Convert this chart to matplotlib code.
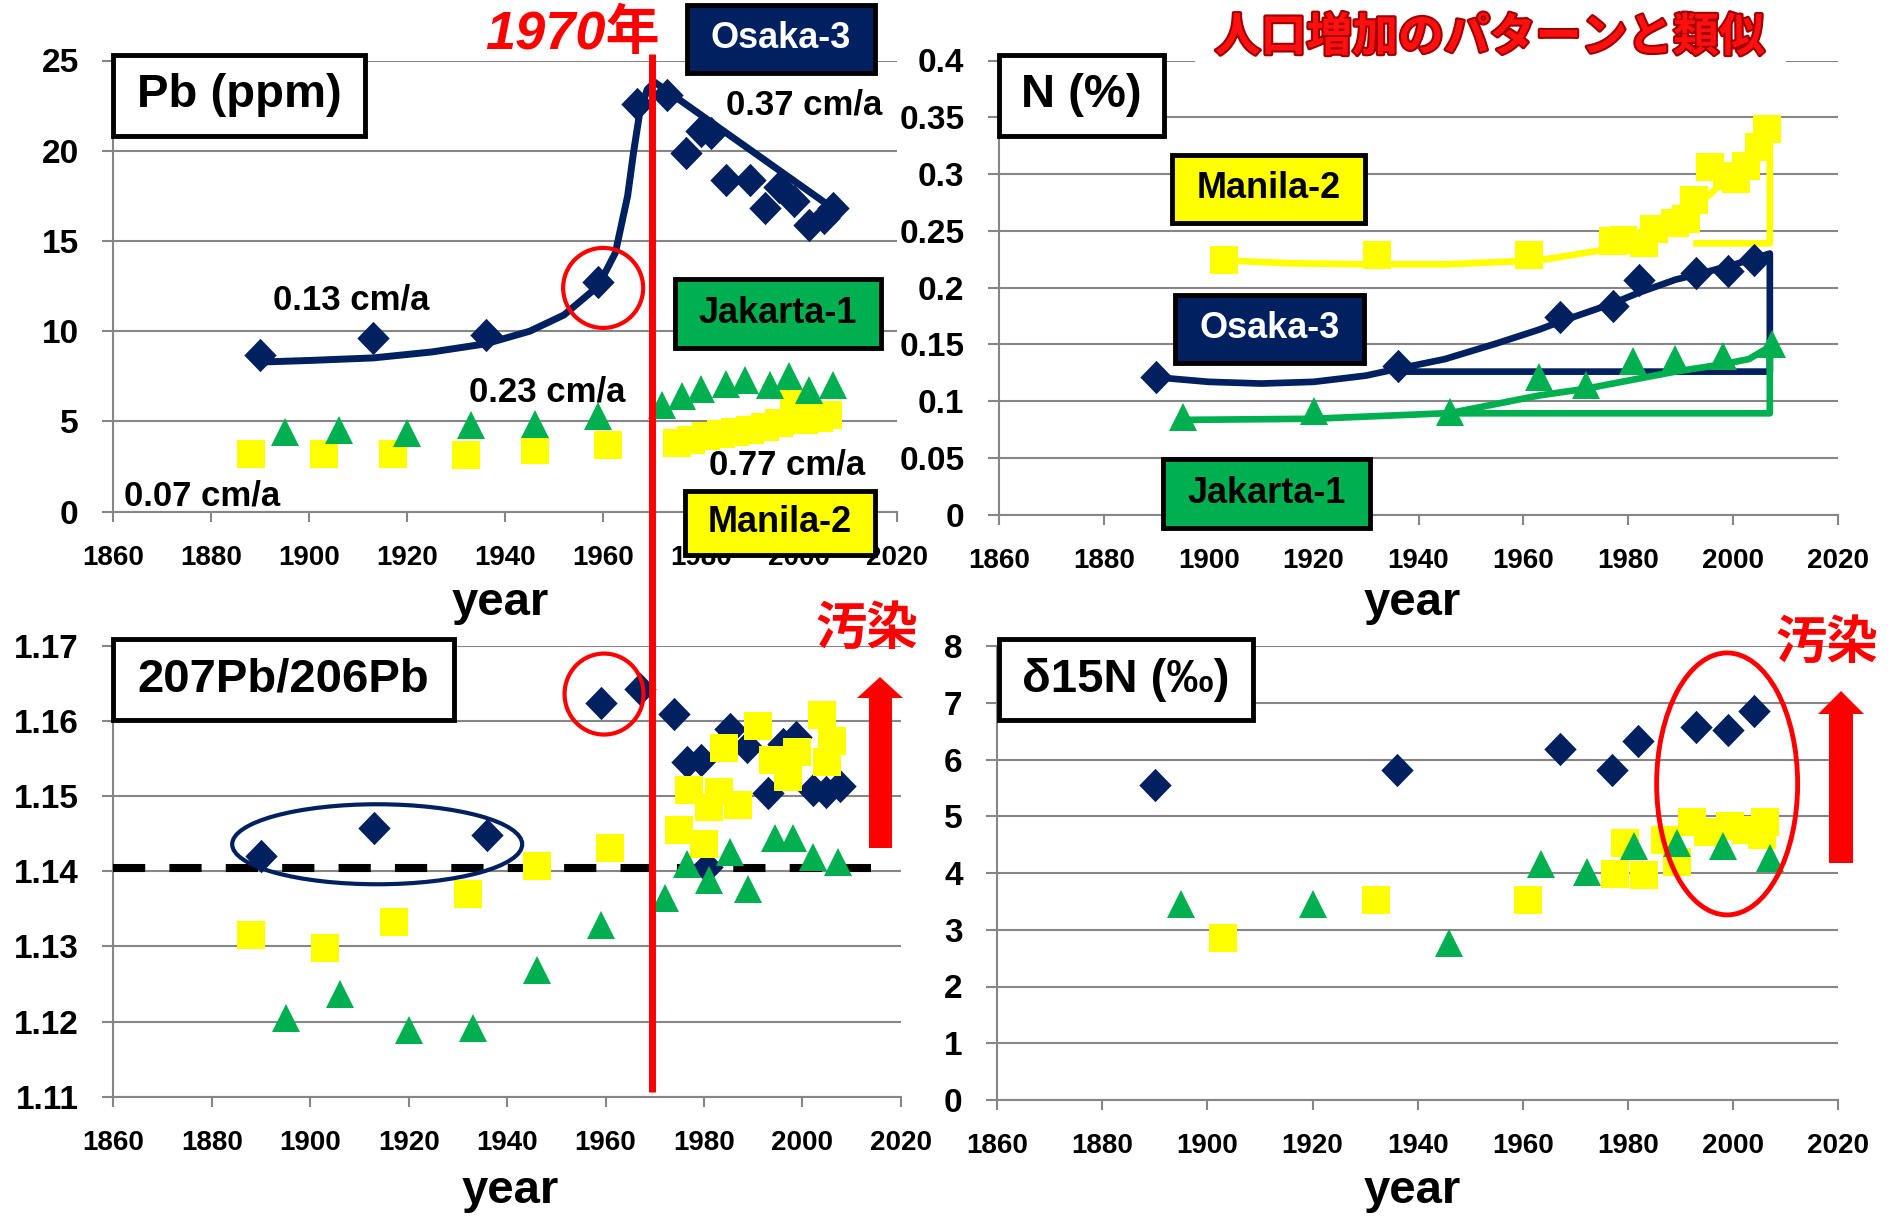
import matplotlib
matplotlib.use('Agg')
import matplotlib.pyplot as plt
from matplotlib.patches import Rectangle, Ellipse, Polygon
from matplotlib.path import Path
import matplotlib.patheffects as pe

# ---------------- data ----------------
# Pb (ppm)
pb_osaka_year = [1890, 1913, 1936, 1959, 1967, 1973, 1977, 1980, 1982, 1985, 1990, 1993, 1996, 1999, 2002, 2005, 2007]
pb_osaka = [8.7, 9.6, 9.8, 12.7, 22.6, 23.1, 19.9, 21.1, 21.0, 18.4, 18.4, 16.8, 18.0, 17.2, 15.9, 16.3, 16.8]
pb_jak_year = [1895, 1906, 1920, 1933, 1946, 1959, 1972, 1976, 1980, 1985, 1989, 1994, 1998, 2002, 2007]
pb_jak = [4.4, 4.5, 4.35, 4.8, 4.85, 5.3, 5.9, 6.4, 6.8, 7.1, 7.3, 7.0, 7.5, 6.75, 7.0]
pb_manila_year = [1888, 1903, 1917, 1932, 1946, 1961, 1975, 1978, 1981, 1984, 1987, 1990, 1993, 1996, 1999, 2001, 2004, 2006]
pb_manila = [3.2, 3.2, 3.2, 3.15, 3.4, 3.7, 3.8, 3.97, 4.19, 4.3, 4.41, 4.52, 4.69, 4.9, 5.95, 5.08, 5.19, 5.35]
pb_trend_year = [1891, 1900, 1913, 1925, 1936, 1945, 1952, 1959, 1962.5, 1965, 1966.2, 1967.4, 1969, 1970.5, 2008]
pb_trend = [8.3, 8.38, 8.52, 8.85, 9.3, 10.0, 10.9, 12.5, 14.35, 17.5, 19.9, 22.0, 23.4, 23.8, 16.6]

# N (%)
n_osaka_year = [1890, 1936, 1967, 1977, 1982, 1993, 1999, 2004]
n_osaka = [0.121, 0.131, 0.174, 0.184, 0.207, 0.213, 0.215, 0.224]
n_manila_year = [1903, 1932, 1961, 1977, 1979, 1983, 1985, 1989, 1991, 1992.5, 1995.5, 1998.8, 2000.5, 2002.5, 2005, 2006.5]
n_manila = [0.224, 0.229, 0.229, 0.241, 0.242, 0.239, 0.252, 0.257, 0.26, 0.277, 0.306, 0.298, 0.296, 0.307, 0.324, 0.340]
n_jak_year = [1895, 1920, 1946, 1963, 1972, 1981, 1989, 1998, 2007.5]
n_jak = [0.086, 0.091, 0.0905, 0.121, 0.114, 0.135, 0.137, 0.140, 0.150]
n_osaka_trend_year = [1890, 1900, 1910, 1920, 1930, 1936, 1945, 1955, 1963, 1967, 1977, 1982, 1989, 1993, 2000, 2007, 2007, 1938]
n_osaka_trend = [0.121, 0.117, 0.1155, 0.117, 0.1225, 0.1285, 0.137, 0.151, 0.163, 0.170, 0.186, 0.1955, 0.207, 0.2115, 0.220, 0.230, 0.126, 0.126]
n_manila_trend_year = [1903, 1915, 1930, 1945, 1963, 1975, 1983, 1990, 1995, 2000, 2004, 2007, 2007, 1993]
n_manila_trend = [0.224, 0.2215, 0.2205, 0.2205, 0.224, 0.233, 0.245, 0.262, 0.28, 0.30, 0.318, 0.338, 0.239, 0.239]
n_jak_trend_year = [1895, 1920, 1946, 1963, 1972, 1981, 1989, 1998, 2003, 2007, 2007, 1946]
n_jak_trend = [0.0835, 0.0845, 0.0895, 0.105, 0.111, 0.119, 0.126, 0.1325, 0.137, 0.148, 0.0893, 0.0893]

# 207Pb/206Pb
r_osaka_year = [1890, 1913, 1936, 1959, 1967, 1974, 1976.5, 1979.5, 1980.6, 1985.3, 1988.7, 1993.1, 1996.1, 1998.8, 2002.2, 2004.9, 2007.6]
r_osaka = [1.1421, 1.1458, 1.1448, 1.1624, 1.1643, 1.1610, 1.1546, 1.1548, 1.1406, 1.1590, 1.1566, 1.1504, 1.1570, 1.1579, 1.1508, 1.1506, 1.1513]
r_manila_year = [1888, 1903, 1917, 1932, 1946, 1961, 1975, 1977, 1980, 1981, 1983, 1984, 1987, 1991, 1994, 1997, 1999, 2004, 2005, 2006]
r_manila = [1.1315, 1.1298, 1.1332, 1.1370, 1.1407, 1.1431, 1.1455, 1.1508, 1.1437, 1.1486, 1.1506, 1.1564, 1.1488, 1.1593, 1.1548, 1.1526, 1.1559, 1.1608, 1.1546, 1.1573]
r_jak_year = [1895, 1906, 1920, 1933, 1946, 1959, 1972, 1976.5, 1981, 1985.3, 1989, 1994.4, 1998.1, 2002.2, 2007.3]
r_jak = [1.1205, 1.1236, 1.1189, 1.1192, 1.1268, 1.1328, 1.1365, 1.1410, 1.1389, 1.1426, 1.1376, 1.1444, 1.1444, 1.1419, 1.1413]
r_ref_year = [1860, 2014]
r_ref = [1.1404, 1.1404]

# d15N
d_osaka_year = [1890, 1936, 1967, 1977, 1982, 1993, 1999, 2004]
d_osaka = [5.55, 5.82, 6.19, 5.81, 6.33, 6.58, 6.52, 6.85]
d_manila_year = [1903, 1932, 1961, 1977.5, 1979.5, 1983, 1987, 1989.3, 1992.2, 1995.3, 1999.4, 2002.4, 2005.5, 2006.1]
d_manila = [2.85, 3.53, 3.52, 3.98, 4.52, 3.97, 4.58, 4.2, 4.90, 4.73, 4.82, 4.75, 4.67, 4.90]
d_jak_year = [1895, 1920, 1946, 1963.4, 1972.2, 1981.2, 1989.3, 1998.2, 2007.1]
d_jak = [3.46, 3.46, 2.77, 4.16, 4.02, 4.47, 4.52, 4.47, 4.26]

x_ticks = [1860, 1880, 1900, 1920, 1940, 1960, 1980, 2000, 2020]
pb_ticks = [0, 5, 10, 15, 20, 25]
pb_labels = ['0', '5', '10', '15', '20', '25']
n_ticks = [0, 0.05, 0.1, 0.15, 0.2, 0.25, 0.3, 0.35, 0.4]
n_labels = ['0', '0.05', '0.1', '0.15', '0.2', '0.25', '0.3', '0.35', '0.4']
r_ticks = [1.11, 1.12, 1.13, 1.14, 1.15, 1.16, 1.17]
r_labels = ['1.11', '1.12', '1.13', '1.14', '1.15', '1.16', '1.17']
d_ticks = [0, 1, 2, 3, 4, 5, 6, 7, 8]
d_labels = ['0', '1', '2', '3', '4', '5', '6', '7', '8']

# ---------------- style ----------------
NAVY = '#002060'
GREEN = '#00B050'
YELLOW = '#FFFF00'
GRID = '#868686'
LAT = ['Liberation Sans', 'DejaVu Sans']
CJK = ['Noto Sans CJK JP', 'DejaVu Sans']

plt.rcParams['font.family'] = LAT
plt.rcParams['font.weight'] = 'bold'

W, H = 1892, 1218
fig = plt.figure(figsize=(W / 100, H / 100), dpi=100)
fig.patch.set_facecolor('white')

DIAMOND = Path([(0, 1), (0.97, 0), (0, -1), (-0.97, 0), (0, 1)],
               [Path.MOVETO, Path.LINETO, Path.LINETO, Path.LINETO, Path.CLOSEPOLY])


def ax_at(x0, y0, x1, y1):
    return fig.add_axes([x0 / W, 1 - y1 / H, (x1 - x0) / W, (y1 - y0) / H])


def style(ax, ylim, yticks, ylabels):
    ax.set_xlim(1860, 2020)
    ax.set_ylim(*ylim)
    ax.set_xticks(x_ticks)
    ax.set_xticklabels([str(v) for v in x_ticks])
    ax.set_yticks(yticks)
    ax.set_yticklabels(ylabels)
    ax.grid(axis='y', color=GRID, lw=1.5)
    ax.grid(axis='x', visible=False)
    ax.set_axisbelow(True)
    for s in ['top', 'right']:
        ax.spines[s].set_visible(False)
    for s in ['left', 'bottom']:
        ax.spines[s].set_color(GRID)
        ax.spines[s].set_linewidth(1.5)
    ax.tick_params(axis='x', direction='out', length=7, width=1.5, color=GRID,
                   labelsize=20, pad=17)
    ax.tick_params(axis='y', direction='out', length=8, width=1.5, color=GRID,
                   labelsize=24, pad=17)
    ax.patch.set_alpha(0)


SHADOW = [pe.SimpleLineShadow(offset=(1.5, -2), shadow_color='#8090b0', alpha=0.25), pe.Normal()]


def markers(ax, xs, ys, kind):
    if kind == 'osaka':
        ax.plot(xs, ys, ls='none', marker=DIAMOND, ms=24, color=NAVY, mew=0, zorder=5, clip_on=False)
    elif kind == 'manila':
        ax.plot(xs, ys, ls='none', marker='s', ms=20.5, color=YELLOW, mew=0, zorder=6, clip_on=False)
    else:
        ax.plot(xs, ys, ls='none', marker='^', ms=20.5, color=GREEN, mew=0, zorder=7, clip_on=False)


axTL = ax_at(113.4, 60.5, 897, 511.7)
style(axTL, (0, 25), pb_ticks, pb_labels)
axTL.plot(pb_trend_year, pb_trend, color=NAVY, lw=5, zorder=4, solid_capstyle='round')
markers(axTL, pb_osaka_year, pb_osaka, 'osaka')
markers(axTL, pb_manila_year, pb_manila, 'manila')
markers(axTL, pb_jak_year, pb_jak, 'jak')

axTR = ax_at(999, 60.5, 1838, 514.7)
style(axTR, (0, 0.4), n_ticks, n_labels)
axTR.plot(n_osaka_trend_year, n_osaka_trend, color=NAVY, lw=4.8, zorder=4)
axTR.plot(n_manila_trend_year, n_manila_trend, color=YELLOW, lw=4.8, zorder=4)
axTR.plot(n_jak_trend_year, n_jak_trend, color=GREEN, lw=4.8, zorder=4)
markers(axTR, n_osaka_year, n_osaka, 'osaka')
markers(axTR, n_manila_year, n_manila, 'manila')
markers(axTR, n_jak_year, n_jak, 'jak')

axBL = ax_at(113.4, 646, 900.8, 1096.6)
style(axBL, (1.11, 1.17), r_ticks, r_labels)
axBL.plot(r_ref_year, r_ref, color='black', lw=5.8, dashes=(4, 3), zorder=3, clip_on=False)
markers(axBL, r_osaka_year, r_osaka, 'osaka')
markers(axBL, r_manila_year, r_manila, 'manila')
markers(axBL, r_jak_year, r_jak, 'jak')

axBR = ax_at(997.3, 646, 1838, 1100)
style(axBR, (0, 8), d_ticks, d_labels)
markers(axBR, d_osaka_year, d_osaka, 'osaka')
markers(axBR, d_manila_year, d_manila, 'manila')
markers(axBR, d_jak_year, d_jak, 'jak')

# ---------------- overlay (pixel coords, origin top-left) ----------------
ov = fig.add_axes([0, 0, 1, 1], zorder=10)
ov.set_xlim(0, W)
ov.set_ylim(H, 0)
ov.axis('off')


def to_px(ax, x, y):
    d = ax.transData.transform((x, y))
    return d[0], H - d[1]


def box(x0, y0, x1, y1, fc, text, tc, size):
    ov.add_patch(Rectangle((x0, y0), x1 - x0, y1 - y0, facecolor=fc, edgecolor='black', lw=3.5, zorder=5))
    ov.text((x0 + x1) / 2, (y0 + y1) / 2, text, ha='center', va='center', color=tc,
            fontsize=size, fontweight='bold', zorder=6)


# white area behind title
ov.add_patch(Rectangle((1195, 0), 591, 75, facecolor='white', edgecolor='none', zorder=1))

# red 1970 line
xr, _ = to_px(axTL, 1970, 0)
ov.plot([xr, xr], [54, 1092], color='red', lw=5, solid_capstyle='butt', zorder=3)

# circles / ellipses
cx, cy = to_px(axTL, 1960, 12.4)
ov.add_patch(Ellipse((cx, cy), 80, 80, fill=False, ec='red', lw=3, zorder=3))
cx, cy = to_px(axBL, 1959.7, 1.1636)
ov.add_patch(Ellipse((cx, cy), 79, 81, fill=False, ec='red', lw=3, zorder=3))
cx, cy = to_px(axBL, 1913.6, 1.1436)
ov.add_patch(Ellipse((cx, cy), 290, 80, fill=False, ec=NAVY, lw=3, zorder=3))
cx, cy = to_px(axBR, 1998.9, 5.57)
ov.add_patch(Ellipse((cx, cy), 141, 262, fill=False, ec='red', lw=3.5, zorder=3))

# red arrows
ov.add_patch(Polygon([(869, 848), (869, 698), (857, 698), (880, 677), (903, 698), (892, 698), (892, 848)],
                     closed=True, fc='red', ec='none', zorder=3))
ov.add_patch(Polygon([(1829, 863), (1829, 714), (1818, 714), (1841, 691), (1864, 714), (1853, 714), (1853, 863)],
                     closed=True, fc='red', ec='none', zorder=3))

# panel title boxes
box(113.4, 54.7, 365, 135.9, 'white', 'Pb (ppm)', 'black', 34)
box(999, 54.7, 1164.4, 135.9, 'white', 'N (%)', 'black', 34)
box(113.4, 639.4, 453.7, 720.2, 'white', '207Pb/206Pb', 'black', 34)
box(999, 639.4, 1252.5, 720.2, 'white', 'δ15N (‰)', 'black', 34)

# series label boxes
box(686.6, 4.6, 874.8, 72.7, NAVY, 'Osaka-3', 'white', 26)
box(674.5, 279.4, 880.8, 348.3, GREEN, 'Jakarta-1', 'black', 26)
box(684.8, 491, 874.8, 555, YELLOW, 'Manila-2', 'black', 26)
box(1172.2, 155, 1365.3, 223, YELLOW, 'Manila-2', 'black', 26)
box(1175.3, 294.7, 1364, 362.8, NAVY, 'Osaka-3', 'white', 26)
box(1163.2, 459.2, 1370.1, 528.1, GREEN, 'Jakarta-1', 'black', 26)

# rate annotations
for (tx, ty, s) in [(351, 300, '0.13 cm/a'), (804, 105, '0.37 cm/a'), (547, 392, '0.23 cm/a'),
                    (202, 496, '0.07 cm/a'), (787, 465, '0.77 cm/a')]:
    ov.text(tx, ty, s, ha='center', va='center', fontsize=25, fontweight='bold', color='black', zorder=4)

# year labels
for (tx, ty) in [(500, 603), (1412, 603), (510, 1191), (1412, 1191)]:
    ov.text(tx, ty, 'year', ha='center', va='center', fontsize=34, fontweight='bold', zorder=4)

# red texts
ov.text(572, 34, '1970年', ha='center', va='center', fontsize=39, fontweight='bold', style='italic',
        color='#FF0000', family=['Liberation Sans', 'Noto Sans CJK JP'], zorder=4)
ov.text(1490, 38, '人口増加のパターンと類似', ha='center', va='center', fontsize=33, fontweight='bold',
        color='#FF1010', family=CJK, zorder=4,
        path_effects=[pe.withStroke(linewidth=3, foreground='#A00000')])
for (tx, ty) in [(867, 628), (1827, 642)]:
    ov.text(tx, ty, '汚染', ha='center', va='center', fontsize=37, fontweight='bold',
            color='#FF0000', family=CJK, zorder=4)

fig.savefig('out.png', dpi=100, facecolor='white')
